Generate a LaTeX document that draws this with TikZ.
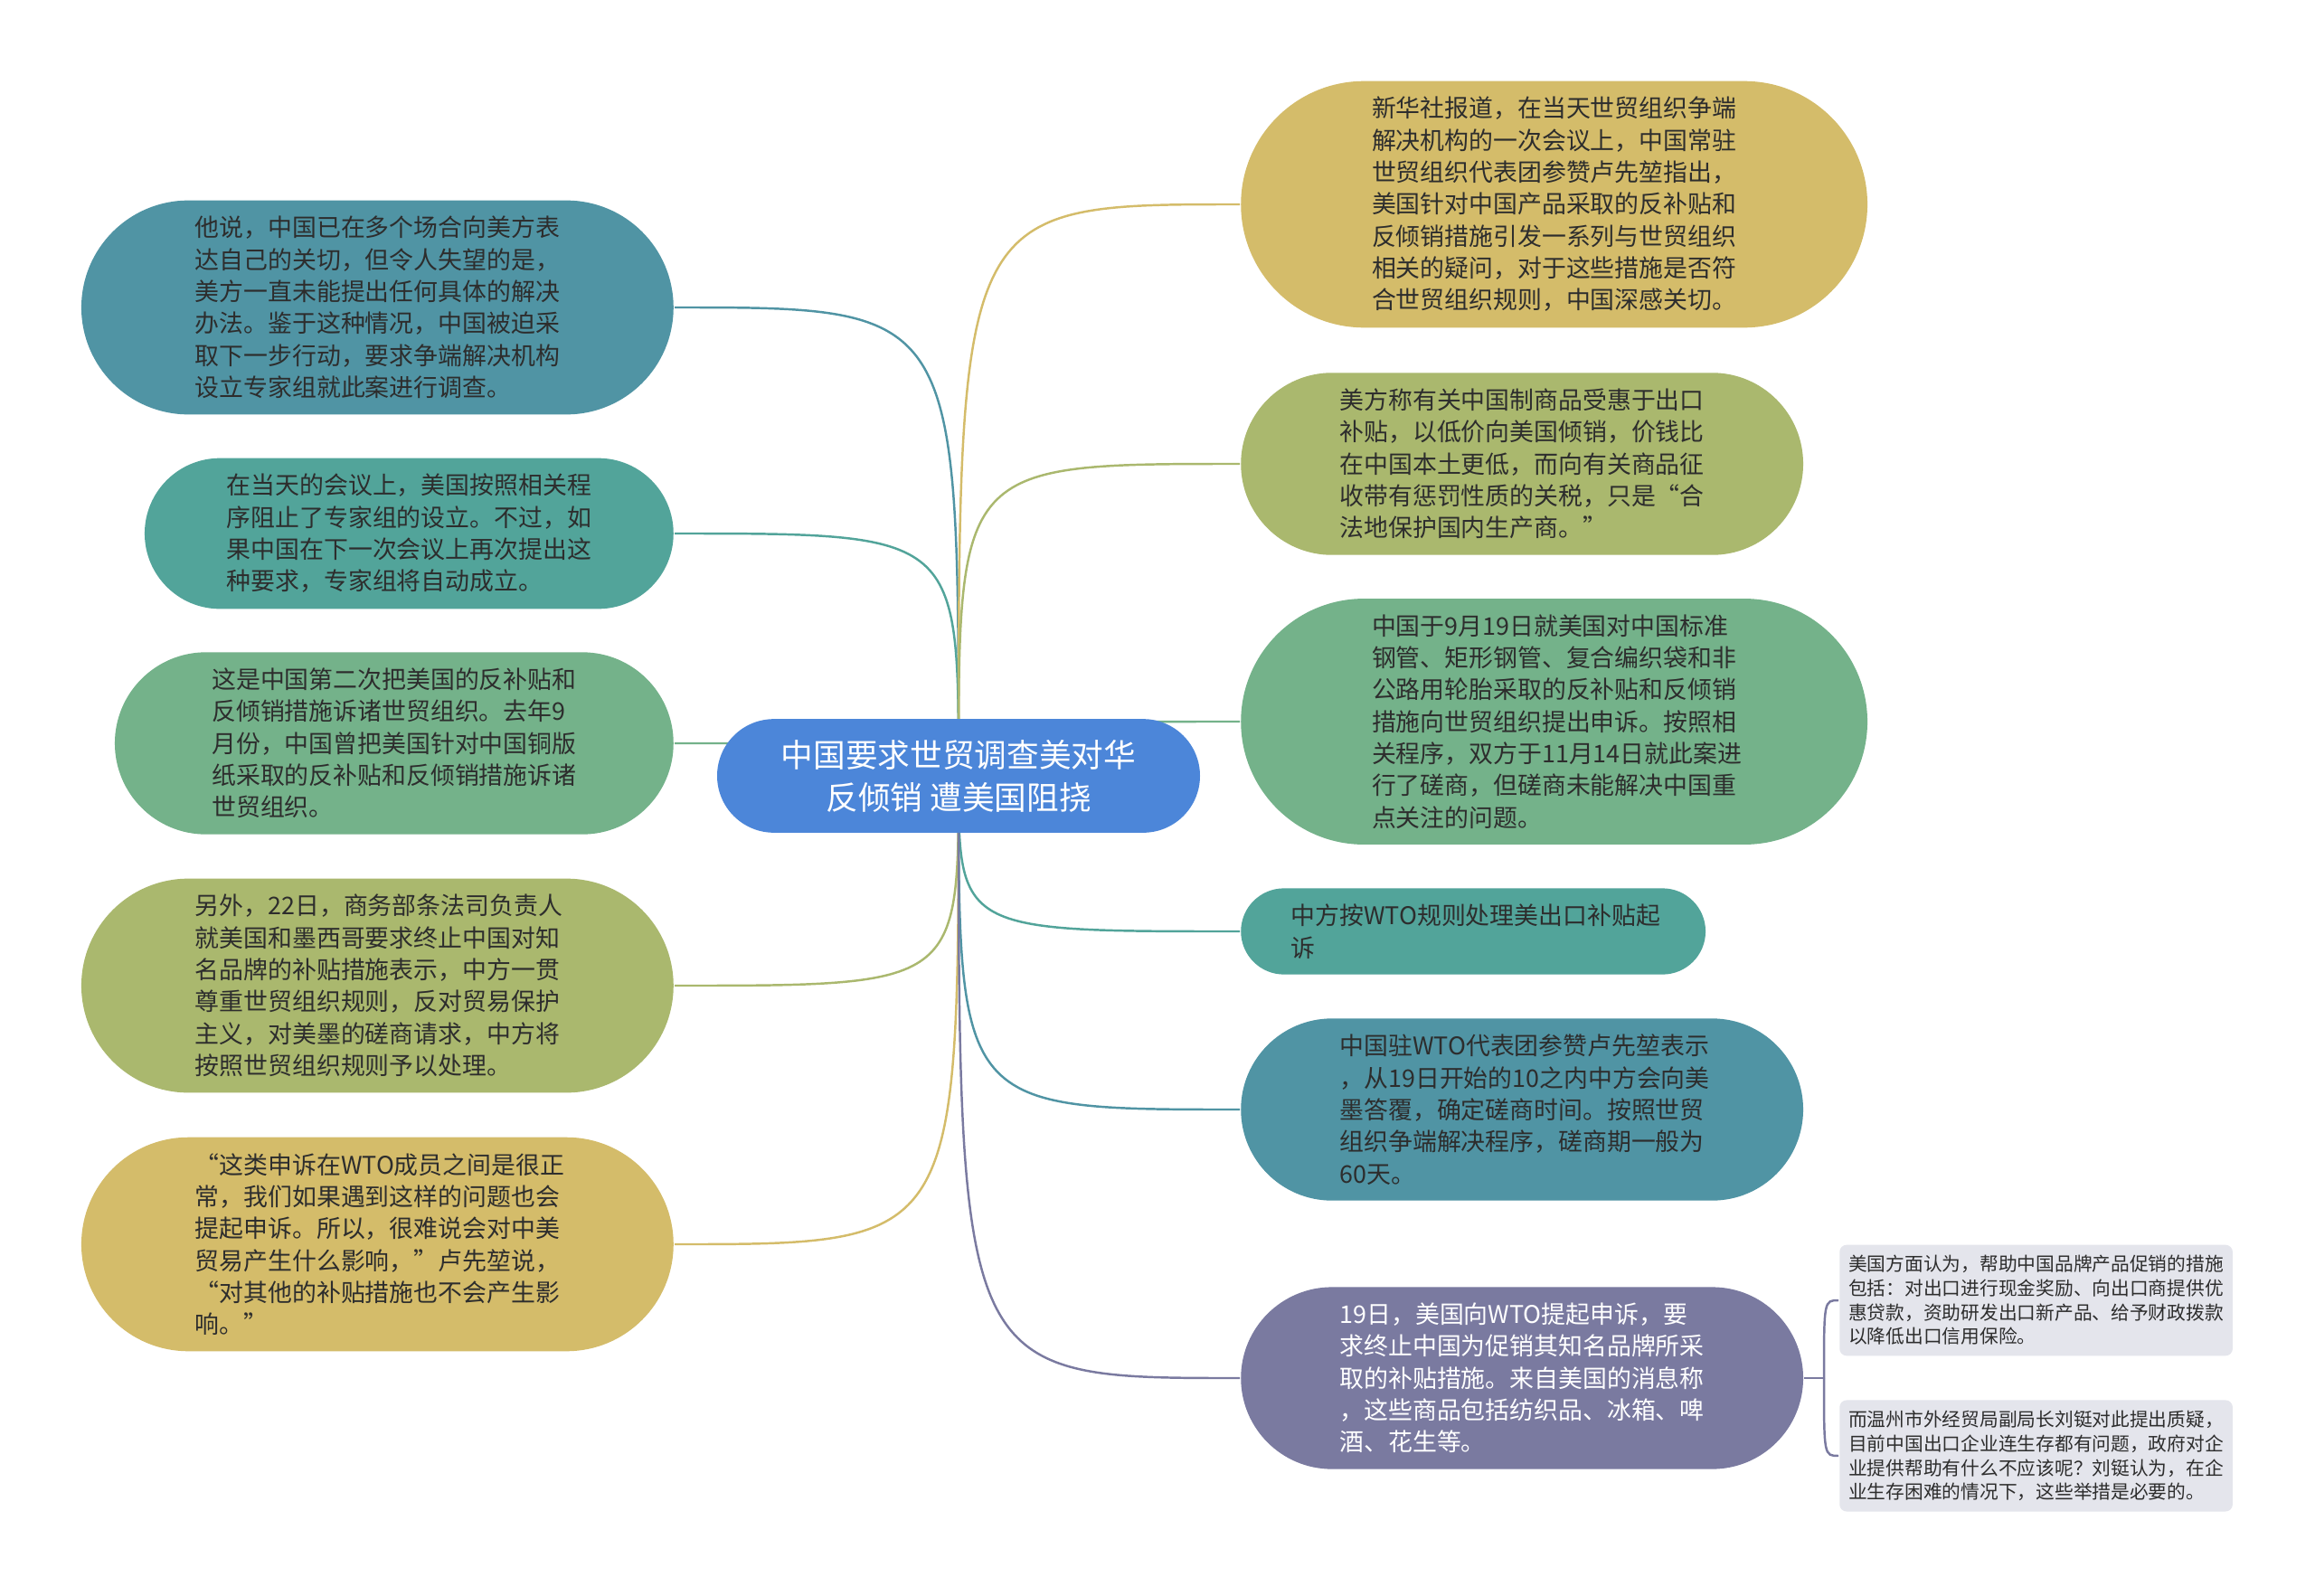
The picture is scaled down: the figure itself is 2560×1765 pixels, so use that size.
\documentclass[tikz,border=0pt]{standalone}
\usepackage{fontspec}
\setmainfont{Noto Sans CJK SC}
\usetikzlibrary{shapes,positioning}

\definecolor{rootblue}{RGB}{76,134,217}
\definecolor{slate}{RGB}{80,148,164}
\definecolor{jade}{RGB}{82,164,154}
\definecolor{sage}{RGB}{116,178,138}
\definecolor{moss}{RGB}{170,184,110}
\definecolor{sand}{RGB}{212,188,106}
\definecolor{dusk}{RGB}{122,122,160}
\definecolor{mist}{RGB}{228,229,236}
\definecolor{ink}{RGB}{45,45,45}

\begin{document}
\begin{tikzpicture}[x=0.02cm, y=-0.02cm, line width=1.4pt,
    topic/.style={rounded rectangle, fill=rootblue, text=white,
      font=\fontsize{20.3}{26.7}\selectfont, align=center,
      minimum width=11.16cm, inner xsep=6.8pt, inner ysep=13pt},
    leaf/.style={rounded rectangle, fill=#1, text=ink,
      font=\fontsize{15.3}{20.1}\selectfont, text width=229.5pt, align=left,
      inner xsep=4pt, inner ysep=10pt},
    note/.style={rectangle, rounded corners=4.5pt, fill=mist, text=ink,
      font=\fontsize{11.8}{15.2}\selectfont, text width=236pt, align=left,
      inner xsep=5.7pt, inner ysep=6.6pt}]
  \useasboundingbox (0,0) rectangle (2560,1765);
  \fill[white] (0,0) rectangle (2560,1765);
  \coordinate (hub) at (1060,858);

  \node [leaf=slate, minimum width=13.38cm, anchor=east] (concern) at (746,340) {他说，中国已在多个场合向美方表\\达自己的关切，但令人失望的是，\\美方一直未能提出任何具体的解决\\办法。鉴于这种情况，中国被迫采\\取下一步行动，要求争端解决机构\\设立专家组就此案进行调查。};
  \node [leaf=jade, minimum width=11.98cm, anchor=east] (blocked) at (746,590) {在当天的会议上，美国按照相关程\\序阻止了专家组的设立。不过，如\\果中国在下一次会议上再次提出这\\种要求，专家组将自动成立。};
  \node [leaf=sage, minimum width=12.64cm, anchor=east] (second) at (746,822) {这是中国第二次把美国的反补贴和\\反倾销措施诉诸世贸组织。去年9\\月份，中国曾把美国针对中国铜版\\纸采取的反补贴和反倾销措施诉诸\\世贸组织。};
  \node [leaf=moss, minimum width=13.38cm, anchor=east] (brands) at (746,1090) {另外，22日，商务部条法司负责人\\就美国和墨西哥要求终止中国对知\\名品牌的补贴措施表示，中方一贯\\尊重世贸组织规则，反对贸易保护\\主义，对美墨的磋商请求，中方将\\按照世贸组织规则予以处理。};
  \node [leaf=sand, minimum width=13.38cm, anchor=east] (quote) at (746,1376) {“这类申诉在WTO成员之间是很正\\常，我们如果遇到这样的问题也会\\提起申诉。所以，很难说会对中美\\贸易产生什么影响，”卢先堃说，\\“对其他的补贴措施也不会产生影\\响。”};

  \node [leaf=sand, minimum width=14.14cm, anchor=west] (xinhua) at (1371,226) {新华社报道，在当天世贸组织争端\\解决机构的一次会议上，中国常驻\\世贸组织代表团参赞卢先堃指出，\\美国针对中国产品采取的反补贴和\\反倾销措施引发一系列与世贸组织\\相关的疑问，对于这些措施是否符\\合世贸组织规则，中国深感关切。};
  \node [leaf=moss, minimum width=12.72cm, anchor=west] (dumping) at (1371,513) {美方称有关中国制商品受惠于出口\\补贴，以低价向美国倾销，价钱比\\在中国本土更低，而向有关商品征\\收带有惩罚性质的关税，只是“合\\法地保护国内生产商。”};
  \node [leaf=sage, minimum width=14.14cm, anchor=west] (pipes) at (1371,798) {中国于9月19日就美国对中国标准\\钢管、矩形钢管、复合编织袋和非\\公路用轮胎采取的反补贴和反倾销\\措施向世贸组织提出申诉。按照相\\关程序，双方于11月14日就此案进\\行了磋商，但磋商未能解决中国重\\点关注的问题。};
  \node [leaf=jade, minimum width=10.56cm, anchor=west] (rules) at (1371,1030) {中方按WTO规则处理美出口补贴起\\诉};
  \node [leaf=slate, minimum width=12.72cm, anchor=west] (reply) at (1371,1227) {中国驻WTO代表团参赞卢先堃表示\\，从19日开始的10之内中方会向美\\墨答覆，确定磋商时间。按照世贸\\组织争端解决程序，磋商期一般为\\60天。};
  \node [leaf=dusk, text=white, minimum width=12.72cm, anchor=west] (complaint) at (1371,1524) {19日，美国向WTO提起申诉，要\\求终止中国为促销其知名品牌所采\\取的补贴措施。来自美国的消息称\\，这些商品包括纺织品、冰箱、啤\\酒、花生等。};

  \node [note, anchor=west] (measures) at (2033,1438) {美国方面认为，帮助中国品牌产品促销的措施\\包括：对出口进行现金奖励、向出口商提供优\\惠贷款，资助研发出口新产品、给予财政拨款\\以降低出口信用保险。};
  \node [note, below of=measures, node distance=3.44cm] (doubt) {而温州市外经贸局副局长刘铤对此提出质疑，\\目前中国出口企业连生存都有问题，政府对企\\业提供帮助有什么不应该呢？刘铤认为，在企\\业生存困难的情况下，这些举措是必要的。};

  \draw [slate] (hub) .. controls (hub |- concern.east) .. (concern.east);
  \draw [jade] (hub) .. controls (hub |- blocked.east) .. (blocked.east);
  \draw [sage] (hub) .. controls (hub |- second.east) .. (second.east);
  \draw [moss] (hub) .. controls (hub |- brands.east) .. (brands.east);
  \draw [sand] (hub) .. controls (hub |- quote.east) .. (quote.east);
  \draw [sand] (hub) .. controls (hub |- xinhua.west) .. (xinhua.west);
  \draw [moss] (hub) .. controls (hub |- dumping.west) .. (dumping.west);
  \draw [sage] (hub) .. controls (hub |- pipes.west) .. (pipes.west);
  \draw [jade] (hub) .. controls (hub |- rules.west) .. (rules.west);
  \draw [slate] (hub) .. controls (hub |- reply.west) .. (reply.west);
  \draw [dusk] (hub) .. controls (hub |- complaint.west) .. (complaint.west);

  \coordinate (fork) at (2017,1524);
  \draw [dusk] (complaint.east) -- (fork);
  \draw [dusk] (fork) .. controls (fork |- measures.west) .. (measures.west);
  \draw [dusk] (fork) .. controls (fork |- doubt.west) .. (doubt.west);

  \node [topic] (root) at (hub) {中国要求世贸调查美对华\\反倾销 遭美国阻挠};
\end{tikzpicture}
\end{document}
